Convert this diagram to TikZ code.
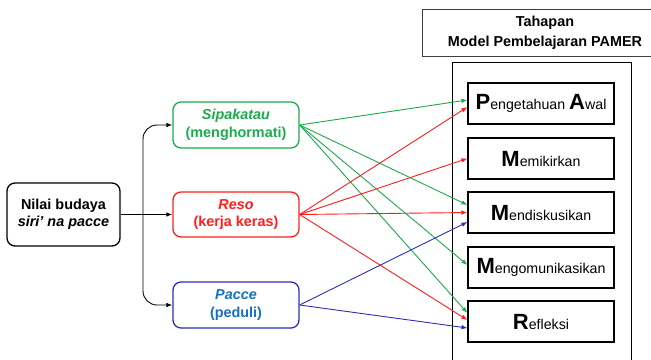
\documentclass[tikz,border=0pt]{standalone}
\usepackage{fontspec}
\setmainfont{Liberation Sans}
\usetikzlibrary{arrows.meta}
\definecolor{cgreen}{HTML}{1AAB4A}
\definecolor{cred}{HTML}{FF1E1E}
\definecolor{cblue}{HTML}{2E2EB4}
\definecolor{ctext}{HTML}{1470C0}
\newcommand{\BigLet}[1]{{\fontsize{22}{22}\selectfont\bfseries #1}}
\newcommand{\RestTxt}[1]{{\fontsize{14.2}{16}\selectfont #1}}
\begin{document}
\begin{tikzpicture}[x=1pt,y=-1pt,
  lbox/.style={draw, rounded corners=8pt, line width=1.3pt, minimum width=126pt, minimum height=46pt, align=center, font=\fontsize{14.4}{17.5}\selectfont\bfseries, inner sep=0pt},
  stage/.style={draw, line width=1.1pt, minimum width=146pt, minimum height=41pt, inner sep=0pt, fill=white},
  arr/.style={-{Latex[length=6pt,width=4.5pt]}, line width=0.9pt}]
\useasboundingbox (0,0) rectangle (651,359);
\begin{scope}
\clip (0,0) rectangle (651,359);
\node[draw=black!75, line width=1pt, minimum width=246pt, minimum height=47pt, align=center, inner sep=0pt, font=\fontsize{14.4}{20}\selectfont\bfseries] (head) at (545,32.5) {Tahapan\\Model Pembelajaran PAMER};
\node[draw, line width=1.3pt, minimum width=179pt, minimum height=310pt, inner sep=0pt, anchor=north west] (outer) at (452,62) {};
\end{scope}
\node[stage] (b1) at (541,103.5) {\BigLet{P}\RestTxt{engetahuan }\BigLet{A}\RestTxt{wal}};
\node[stage] (b2) at (541,158.5) {\BigLet{M}\RestTxt{emikirkan}};
\node[stage] (b3) at (541,212.5) {\BigLet{M}\RestTxt{endiskusikan}};
\node[stage] (b4) at (541,267.5) {\BigLet{M}\RestTxt{engomunikasikan}};
\node[stage] (b5) at (541,321.5) {\BigLet{R}\RestTxt{efleksi}};

\node[lbox, minimum width=113pt, minimum height=63pt] (nilai) at (63.5,214.5) {Nilai budaya\\\textit{siri’ na pacce}};
\node[lbox, draw=cgreen, text=cgreen] (sip) at (236,125) {\textit{Sipakatau}\\(menghormati)};
\node[lbox, draw=cred, text=cred, minimum height=45pt] (reso) at (236,214.5) {\textit{Reso}\\(kerja keras)};
\node[lbox, draw=cblue, text=ctext] (pac) at (236,305) {\textit{Pacce}\\(peduli)};

\coordinate (br) at (143,214.5);
\draw[arr] (nilai.east) -- (reso.west);
\draw[arr, rounded corners=14pt] (br) |- (sip.west);
\draw[arr, rounded corners=14pt] (br) |- (pac.west);

\begin{scope}[arr, cgreen]
\draw (sip.east) -- ([yshift=3.5pt]b1.west);
\draw (sip.east) -- ([yshift=7.5pt]b3.west);
\draw (sip.east) -- ([yshift=2.5pt]b4.west);
\draw (sip.east) -- ([yshift=8.5pt]b5.west);
\end{scope}
\begin{scope}[arr, cred]
\draw (reso.east) -- ([yshift=-3.5pt]b1.west);
\draw (reso.east) -- (b2.west);
\draw (reso.east) -- (b3.west);
\draw (reso.east) -- ([yshift=1.5pt]b5.west);
\end{scope}
\begin{scope}[arr, cblue]
\draw (pac.east) -- ([yshift=-9.5pt]b3.west);
\draw (pac.east) -- ([yshift=-6.5pt]b5.west);
\end{scope}
\end{tikzpicture}
\end{document}
